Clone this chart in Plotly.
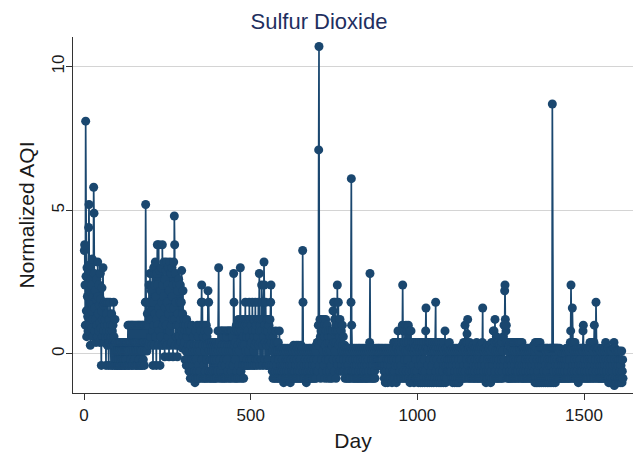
import plotly.graph_objects as go

# Normalized AQI (sulfur dioxide), daily values, in blocks of 100 days
aqi_0001_0100 = [
    3.6, 3.8, 2.4, 1.0, 8.1, 2.7, 1.5, 0.6, 3.0, 2.0,
    1.3, 0.8, 2.9, 4.4, 5.2, 2.2, 3.1, 1.0, 0.3, 1.8,
    2.6, 1.5, 0.9, 2.4, 3.3, 1.2, 0.6, 2.0, 5.8, 4.9,
    2.8, 1.6, 0.8, 2.2, 1.2, 0.4, 1.9, 2.6, 1.0, 0.6,
    3.2, 2.0, 1.4, 0.8, 2.4, 1.7, 0.4, 1.1, 2.8, 1.9,
    0.9, -0.4, 1.5, 2.3, 0.6, 1.2, 3.0, 1.7, 0.8, 0.4,
    1.8, 1.0, 0.4, 1.2, 0.6, -0.4, 1.8, 1.4, 0.8, 0.3,
    1.0, 1.8, 0.6, -0.4, 0.4, 1.2, 0.8, 1.8, 0.4, 1.0,
    -0.4, 0.6, 1.4, 0.3, 0.8, -0.4, 1.0, 0.4, 1.8, 0.6,
    0.3, -0.4, 1.2, 0.4, 0.1, -0.4, 0.4, -0.2, 0.1, -0.4,
]
aqi_0101_0200 = [
    0.1, -0.4, 0.4, -0.2, 0.1, -0.4, 0.1, 0.4, -0.4, -0.2,
    0.4, 0.1, -0.4, 0.1, -0.2, 0.4, -0.4, 0.1, 0.4, -0.2,
    -0.4, 0.1, 0.4, -0.4, 0.1, -0.2, 0.4, 0.1, -0.4, 0.4,
    0.1, 1.0, -0.4, 0.4, 1.0, 0.1, -0.4, 0.4, 1.0, -0.2,
    0.4, 1.0, -0.4, 0.1, 1.0, 0.4, -0.4, 1.0, 0.1, 0.4,
    -0.2, 1.0, 0.4, -0.4, 0.1, 1.0, 0.4, -0.4, 0.1, 1.0,
    0.4, -0.4, 1.0, 0.1, -0.2, 1.0, 0.4, -0.4, 1.0, 0.1,
    -0.4, 0.4, 1.0, 0.1, -0.4, 1.0, 0.4, -0.2, 1.0, 0.4,
    -0.4, 0.1, 1.0, 1.8, 5.2, 1.8, 0.4, 1.0, 0.1, 1.4,
    0.4, 1.8, 1.0, 0.3, 2.4, 1.2, 0.4, 2.8, 1.8, 0.6,
]
aqi_0201_0300 = [
    1.2, 2.2, 0.3, 1.5, 2.8, 0.8, -0.4, 1.8, 3.0, 1.0,
    0.3, 2.4, 1.4, 3.2, 0.6, 2.0, -0.4, 1.2, 2.8, 3.8,
    1.0, 2.4, 0.3, 3.8, 1.6, 0.8, 2.9, -0.4, 1.4, 2.2,
    0.6, 3.0, 1.8, 0.3, 3.8, 2.4, 1.0, 0.3, 2.0, 3.2,
    1.2, -0.1, 2.6, 1.6, 0.4, 2.9, 1.0, 3.2, 0.3, 1.8,
    2.4, 0.6, 3.0, 1.4, -0.1, 2.2, 0.8, 3.2, 1.6, 0.3,
    2.8, 1.0, 0.4, 3.0, 2.0, 1.2, -0.1, 2.4, 3.2, 1.6,
    4.8, 3.8, 1.2, 0.3, 2.8, 1.8, 0.6, 2.4, 1.0, -0.1,
    2.2, 1.4, 0.3, 2.6, 1.0, 0.6, 1.8, 0.3, 2.4, 1.2,
    0.4, 1.8, 2.9, 0.8, 0.2, 1.4, 2.2, 0.6, 1.0, 0.3,
]
aqi_0301_0400 = [
    1.2, 0.4, -0.2, 0.8, 1.0, 0.1, -0.4, 1.2, 0.6, -0.2,
    0.8, -0.4, 0.3, 1.0, -0.6, 0.1, 0.8, -0.4, -0.85, 0.3,
    0.8, -0.6, -0.2, 1.0, -0.85, 0.1, -0.4, 0.6, -0.85, -0.2,
    0.3, -0.6, -1.0, 0.1, 0.8, -0.85, -0.2, 0.3, -0.6, 1.0,
    -0.85, 0.1, 0.6, -0.4, -0.85, 0.3, 1.0, -0.6, 0.1, -0.85,
    0.8, 1.8, 2.4, -0.2, 1.8, 0.3, -0.85, 0.6, -0.4, 1.0,
    -0.85, 0.1, 0.8, -0.6, 0.3, -0.85, 1.0, -0.2, 0.6, -0.85,
    0.3, 2.2, 0.8, 1.8, -0.6, 0.1, -0.85, 0.4, -0.2, -0.85,
    0.3, -0.6, 0.1, 0.4, -0.85, -0.2, 0.3, -0.6, 0.1, -0.85,
    0.4, -0.2, -0.85, 0.3, 0.1, -0.6, 0.4, -0.85, -0.2, 0.3,
]
aqi_0401_0500 = [
    -0.6, 0.8, 0.1, 3.0, 0.3, -0.85, 0.4, -0.2, 0.8, -0.6,
    0.1, -0.85, 0.8, 0.3, -0.4, 0.8, -0.85, 0.1, 0.6, -0.2,
    0.8, -0.85, 0.3, -0.4, 0.8, 0.1, -0.85, 0.6, -0.2, 0.8,
    -0.6, 0.3, 0.8, -0.85, 0.1, 0.8, -0.4, 0.3, -0.85, 0.8,
    0.1, -0.6, 0.8, 0.3, -0.85, 0.6, 0.1, -0.4, 2.8, 1.8,
    0.3, -0.85, 0.8, -0.2, 0.4, -0.85, 1.0, 0.1, -0.6, 0.8,
    -0.85, 0.3, 1.2, -0.4, 0.8, 0.1, -0.85, 1.0, 3.0, 0.4,
    -0.6, 0.8, 1.2, -0.85, 0.3, 1.0, -0.4, 0.6, -0.85, 1.2,
    0.3, -0.4, 1.0, 1.8, 0.1, -0.4, 1.2, 0.6, -0.2, 1.0,
    -0.4, 0.8, 1.2, 0.1, -0.4, 1.8, 0.6, -0.2, 1.2, 0.3,
]
aqi_0501_0600 = [
    -0.4, 1.0, 0.4, -0.2, 1.8, 0.8, -0.4, 1.2, 0.1, 0.6,
    1.2, -0.4, 0.3, 1.8, 0.8, -0.2, 1.0, 0.4, -0.4, 1.2,
    0.6, -0.2, 1.8, 0.3, 1.2, 2.8, 0.8, -0.4, 1.0, 0.4,
    1.2, -0.2, 2.4, 0.8, 1.8, 0.3, -0.4, 1.2, 0.6, 3.2,
    2.4, 1.0, -0.2, 0.4, 1.8, 0.8, -0.4, 1.2, 0.3, -0.4,
    0.8, 1.2, -0.2, 0.4, 1.0, -0.4, 0.3, 1.2, 0.6, 1.8,
    2.4, 0.4, -0.4, 0.8, -0.6, 0.1, -0.85, 0.6, -0.4, 0.3,
    -0.85, 0.4, -0.2, -0.6, 0.8, -0.85, 0.1, -0.4, 0.4, -0.85,
    0.1, -0.6, 0.4, -0.2, -0.85, 0.8, 0.1, -0.6, -0.85, 0.2,
    -0.4, -0.85, 0.1, -0.6, -0.2, -0.85, 0.2, -0.4, -1.0, 0.1,
]
aqi_0601_0700 = [
    -0.6, -0.85, 0.2, -0.4, -0.85, 0.1, -0.2, -0.6, -0.85, 0.2,
    -0.4, -0.85, -0.2, 0.1, -0.6, -0.85, 0.2, -0.4, -1.0, 0.1,
    -0.2, -0.85, -0.6, 0.2, -0.4, -0.85, 0.1, -0.6, 0.3, -0.85,
    -0.2, 0.2, -0.6, -0.85, 0.1, -0.4, 0.3, -0.85, -0.2, 0.2,
    -0.6, -0.85, 0.3, -0.4, 0.1, -0.85, 0.2, -0.6, -0.2, -0.85,
    0.3, -0.4, 0.1, -0.85, 0.2, 3.6, 1.8, -0.6, -0.85, 0.1,
    -0.4, 0.2, -0.85, -0.2, 0.1, -0.6, -1.0, 0.2, -0.4, -0.85,
    0.1, -0.6, -0.2, -0.85, 0.2, -0.4, -0.85, 0.1, -0.6, 0.2,
    -0.85, -0.2, 0.1, -0.6, -0.85, 0.2, -0.4, -0.85, 0.1, -0.2,
    -0.6, 0.2, -0.85, -0.4, 0.1, -0.85, 0.3, -0.6, -0.2, 0.4,
]
aqi_0701_0800 = [
    0.4, -0.6, 1.0, 7.1, 10.7, 0.3, -0.4, 1.2, 0.6, -0.85,
    0.8, 1.2, -0.2, 0.4, 1.0, -0.6, 0.8, 0.1, 1.2, -0.4,
    0.6, 1.0, -0.85, 0.3, 1.2, -0.2, 0.8, 0.1, -0.6, 1.0,
    0.4, -0.85, 0.6, -0.2, 0.8, 0.1, -0.6, 0.4, -0.85, 0.8,
    0.1, -0.4, 0.6, -0.85, 0.3, 0.8, 1.5, -0.2, 1.8, 0.4,
    -0.6, 1.2, 1.8, 0.1, 0.8, -0.85, 0.4, 1.0, -0.2, 2.4,
    0.8, -0.4, 1.8, 0.3, 1.0, -0.6, 0.6, 1.2, -0.2, 0.4,
    -0.6, 0.8, 0.1, -0.4, 1.0, 0.3, -0.6, 0.6, -0.2, 0.1,
    -0.6, 0.3, -0.85, 0.2, -0.4, 0.1, -0.85, -0.2, 0.2, -0.6,
    0.1, -0.85, -0.4, 0.2, -0.6, -0.85, 0.1, -0.2, -0.85, 0.2,
]
aqi_0801_0900 = [
    1.8, 6.1, 1.0, -0.6, 0.2, -0.85, -0.2, 0.1, -0.6, -0.85,
    0.2, -0.4, -0.85, 0.1, -0.2, -0.6, 0.2, -0.85, -0.4, 0.1,
    -0.85, -0.2, 0.2, -0.6, -0.85, 0.1, -0.4, 0.2, -0.85, -0.2,
    0.1, -0.6, -0.85, 0.2, -0.4, -0.85, 0.1, -0.2, -0.6, 0.2,
    -0.85, -0.4, 0.1, -0.85, -0.2, 0.2, -0.6, -0.85, 0.1, -0.4,
    -0.85, 0.2, -0.2, -0.6, 0.1, -0.85, 0.4, 2.8, 0.2, -0.4,
    -0.85, 0.1, -0.2, -0.6, -0.85, 0.2, -0.4, 0.1, -0.85, -0.2,
    0.2, -0.6, -0.85, 0.1, -0.4, -0.2, 0.2, -0.4, 0.1, -0.2,
    -0.4, 0.2, -0.2, 0.1, -0.4, 0.2, -0.2, -0.4, 0.1, -0.2,
    0.2, -0.4, -0.2, 0.1, -0.4, 0.2, -0.2, -0.4, 0.1, -0.6,
]
aqi_0901_1000 = [
    -0.85, 0.2, -0.4, -1.0, 0.1, -0.6, 0.2, -0.85, -0.2, 0.1,
    -1.0, -0.4, 0.2, -0.85, -0.2, 0.1, -0.6, -0.85, 0.2, -0.4,
    -0.85, 0.1, -0.2, -1.0, 0.2, -0.6, 0.1, -0.85, 0.4, -0.2,
    -0.6, 0.4, -0.85, 0.1, -0.4, 0.4, -1.0, 0.2, -0.2, 0.4,
    -0.85, 0.8, -0.4, 0.1, -0.85, 0.4, -0.2, -0.6, 0.2, -0.85,
    0.1, -0.4, 0.4, -0.85, 1.0, 2.4, 0.8, -0.6, 0.2, -0.85,
    0.4, -0.2, 0.8, -0.85, 0.1, 1.0, -0.6, 0.4, -0.85, 0.8,
    -0.2, 0.1, 1.0, -0.85, 0.4, -0.6, 0.8, -1.0, 0.2, -0.4,
    0.8, -0.85, 0.1, 0.4, -0.6, -0.85, 0.2, -0.4, 0.4, -1.0,
    0.1, -0.6, 0.2, -0.85, 0.4, -0.2, -0.85, 0.3, -0.6, 0.1,
]
aqi_1001_1100 = [
    -0.85, 0.4, -1.0, 0.2, -0.4, -0.85, 0.1, 0.4, -1.0, -0.2,
    0.2, -0.85, -0.4, 0.4, -1.0, 0.1, -0.6, 0.2, -0.85, 0.4,
    -0.2, -1.0, 0.1, -0.6, 0.8, 1.6, 0.2, -0.85, 0.4, -1.0,
    0.1, -0.4, 0.2, -0.85, 0.4, -1.0, 0.4, -0.2, -0.85, 0.4,
    -0.6, 0.1, -1.0, 0.2, -0.4, -0.85, 0.4, 0.1, -1.0, -0.2,
    0.2, -0.85, 0.1, 0.4, 1.8, -0.6, 0.2, -1.0, -0.2, 0.4,
    -0.85, 0.1, -0.4, 0.2, -1.0, 0.4, -0.6, -0.85, 0.1, 0.2,
    -1.0, -0.2, 0.4, -0.85, 0.1, -0.6, 0.2, -1.0, 0.4, -0.4,
    0.1, -0.85, 0.8, -0.2, -1.0, 0.2, -0.4, -0.85, 0.1, -0.6,
    0.2, -0.2, -0.6, 0.1, -0.4, 0.4, -0.2, -0.6, 0.1, -0.4,
]
aqi_1101_1200 = [
    0.1, -0.6, -0.2, -0.85, 0.2, -1.0, -0.4, 0.1, -0.85, -0.2,
    0.2, -1.0, -0.6, 0.1, -0.85, -0.2, 0.2, -0.4, -1.0, 0.1,
    -0.6, -0.85, 0.2, -0.2, -1.0, 0.1, -0.4, -0.85, 0.2, -0.6,
    0.1, -0.85, -0.2, 0.2, 0.3, -0.6, -0.85, 0.1, 0.4, -0.4,
    -0.85, 0.2, 1.0, -0.6, 0.1, 0.4, -0.85, -0.2, 0.7, 0.4,
    1.2, -0.4, 0.1, -0.85, 0.2, -0.6, 0.4, -0.85, -0.2, 0.1,
    -0.6, 0.2, -0.85, -0.2, 0.1, -0.6, 0.3, -0.85, -0.4, 0.2,
    -0.85, 0.1, -0.6, -0.2, 0.2, -0.85, -0.4, 0.4, 0.1, -0.85,
    -0.2, 0.2, -0.6, -0.85, 0.1, -0.4, 0.2, -0.85, -0.2, 0.3,
    -0.6, -0.85, 0.2, -0.4, 0.4, 1.6, -0.2, -0.85, 0.1, -0.6,
]
aqi_1201_1300 = [
    -0.2, 0.2, -0.85, -0.4, 0.2, -1.0, 0.1, -0.6, -0.85, 0.3,
    -0.2, -0.85, 0.1, -0.6, 0.2, -0.4, -0.85, 0.3, -0.2, -1.0,
    0.1, -0.6, 0.4, -0.85, -0.2, 0.2, -0.4, 0.8, -0.85, 0.8,
    -0.2, 0.4, 1.2, -0.6, 0.1, -0.85, 0.6, -0.2, -0.85, 0.4,
    -0.4, 0.1, -0.85, 0.4, -0.2, -0.6, 0.3, -0.85, 0.1, -0.4,
    0.2, -0.85, -0.2, 0.4, -0.6, 0.1, -0.85, 0.6, -0.4, 1.0,
    -0.2, 2.2, 2.4, 1.2, 0.4, 0.8, 1.0, -0.6, 0.4, -0.85,
    0.1, -0.4, 0.4, -0.85, -0.2, 0.3, -0.6, -0.85, 0.4, -0.2,
    -0.85, 0.2, -0.4, 0.4, -0.6, -0.85, 0.1, 0.4, -0.2, -0.85,
    0.4, -0.4, 0.1, -0.85, 0.4, -0.6, -0.2, 0.4, -0.85, 0.1,
]
aqi_1301_1400 = [
    -0.6, 0.4, -0.85, -0.2, 0.4, -0.4, 0.1, -0.85, 0.4, -0.6,
    -0.2, 0.1, -0.85, 0.4, -0.4, -0.85, 0.2, -0.6, 0.1, -0.85,
    0.2, -0.4, -0.85, 0.1, -0.2, -0.6, 0.2, -0.85, -0.4, 0.1,
    -0.85, 0.2, -0.2, -0.6, 0.1, -0.85, -0.4, 0.2, -0.2, -0.85,
    0.1, -0.6, -0.85, 0.2, -0.4, 0.1, -0.85, -0.2, 0.3, -0.6,
    -0.85, 0.1, -1.0, 0.4, -0.4, -0.85, 0.2, -1.0, 0.4, -0.2,
    -0.6, -1.0, 0.4, -0.85, 0.1, -0.4, -1.0, 0.4, -0.2, -0.85,
    0.2, -1.0, -0.4, 0.2, -0.85, -0.2, 0.2, -1.0, -0.6, 0.2,
    -0.85, -0.2, 0.2, -1.0, -0.4, 0.1, -0.85, 0.2, -0.6, -1.0,
    0.2, -0.2, -0.85, 0.1, -1.0, -0.4, 0.2, -0.85, -0.2, 0.2,
]
aqi_1401_1500 = [
    -1.0, -0.4, 0.2, -0.85, 8.7, -0.2, 0.2, -1.0, -0.6, 0.2,
    -0.85, -0.2, 0.2, -1.0, -0.4, 0.2, -0.85, -0.6, 0.2, -0.2,
    -0.85, 0.2, -0.4, -0.85, 0.1, -0.6, 0.2, -0.85, -0.2, -0.6,
    -0.85, -0.2, -0.4, -0.85, 0.0, -0.6, -0.2, -0.85, -0.4, 0.0,
    -0.85, -0.6, -0.2, -0.85, 0.0, -0.4, 0.2, -0.85, -0.2, 0.1,
    -0.6, -0.85, 0.2, -0.4, -0.85, 0.1, -0.2, -0.85, 0.4, 0.8,
    2.4, 0.2, -0.6, -0.85, 1.6, 0.4, -0.4, 0.4, -0.85, 0.1,
    -0.6, -0.2, 0.4, -0.85, 0.1, -0.4, -0.85, 0.2, -0.6, -0.2,
    0.1, -0.85, -1.0, 0.2, -0.4, -0.85, 0.1, -0.2, -0.6, 0.2,
    -0.85, -0.4, 0.2, -0.6, -0.85, 0.1, 0.8, 1.0, -0.4, -0.85,
]
aqi_1501_1617 = [
    0.2, -0.6, -0.2, -0.85, 0.1, -0.4, 0.2, -0.85, -0.6, 0.1,
    -0.2, -0.85, 0.2, -0.4, -0.85, 0.1, -0.6, 0.4, -0.2, -0.85,
    0.2, -0.4, 0.4, -0.85, -0.2, 0.4, -0.6, 0.1, -0.85, 0.4,
    1.0, -0.4, -0.85, 0.2, -0.2, 1.8, -0.6, 0.2, -0.85, 0.1,
    -0.4, 0.2, -0.85, -0.2, 0.2, -0.6, -0.85, 0.1, -0.4, -0.85,
    0.1, -0.2, -0.6, -0.85, 0.2, -0.4, -0.85, 0.1, -0.2, -0.6,
    -0.85, 0.1, -0.4, 0.2, 0.4, -0.85, -0.2, -0.6, 0.1, -0.85,
    -0.4, 0.2, -0.85, -1.0, -0.2, 0.1, -0.6, -1.0, -0.4, 0.1,
    -0.85, -0.2, -1.0, 0.1, -0.6, -0.85, -0.4, -1.0, 0.2, 0.4,
    -1.1, -0.2, 0.2, -0.85, -1.0, -0.4, 0.1, -0.6, -1.0, -0.2,
    0.1, -0.85, -0.4, -1.0, -0.2, 0.1, -0.85, -0.6, -1.0, -0.2,
    -0.4, -0.85, 0.1, -1.0, -0.6, -0.2, -0.85,
]

blocks = [aqi_0001_0100, aqi_0101_0200, aqi_0201_0300, aqi_0301_0400,
          aqi_0401_0500, aqi_0501_0600, aqi_0601_0700, aqi_0701_0800,
          aqi_0801_0900, aqi_0901_1000, aqi_1001_1100, aqi_1101_1200,
          aqi_1201_1300, aqi_1301_1400, aqi_1401_1500, aqi_1501_1617]
aqi = [v for b in blocks for v in b]
day = list(range(1, len(aqi) + 1))

x_ticks = [0, 500, 1000, 1500]
y_ticks = [0, 5, 10]

navy = "#1a476f"
font_family = "Liberation Sans, Arial, sans-serif"

fig = go.Figure(go.Scatter(
    x=day, y=aqi, mode="lines+markers",
    line=dict(color=navy, width=1.7),
    marker=dict(color=navy, size=9, line=dict(width=0)),
    showlegend=False,
))

fig.update_layout(
    width=638, height=459,
    margin=dict(l=73, r=5, t=37, b=66),
    paper_bgcolor="white", plot_bgcolor="white",
    font=dict(family=font_family, color="#1a1a1a"),
    title=dict(text="Sulfur Dioxide", x=0.5, xref="container", xanchor="center",
               y=1 - 21 / 459, yref="container", yanchor="middle",
               font=dict(size=22, color="#1f2f5f", family=font_family)),
)
fig.update_xaxes(
    range=[-33, 1647], tickvals=x_ticks, ticktext=[str(t) for t in x_ticks],
    ticks="outside", ticklen=6, tickcolor="#333333",
    showline=True, linecolor="#333333", linewidth=1,
    showgrid=False, zeroline=False,
    tickfont=dict(size=17), ticklabelstandoff=1,
    title=dict(text="Day", font=dict(size=21), standoff=8),
)
fig.update_yaxes(
    range=[-1.36, 11.03], tickvals=y_ticks, ticktext=[str(t) for t in y_ticks],
    tickangle=-90,
    ticks="outside", ticklen=6, tickcolor="#333333",
    showline=True, linecolor="#333333", linewidth=1,
    showgrid=True, gridcolor="#d4d4d4", gridwidth=1, zeroline=False,
    tickfont=dict(size=17), ticklabelstandoff=-5,
    title=dict(text="Normalized AQI", font=dict(size=21), standoff=8),
)

fig.write_html("out.html")
